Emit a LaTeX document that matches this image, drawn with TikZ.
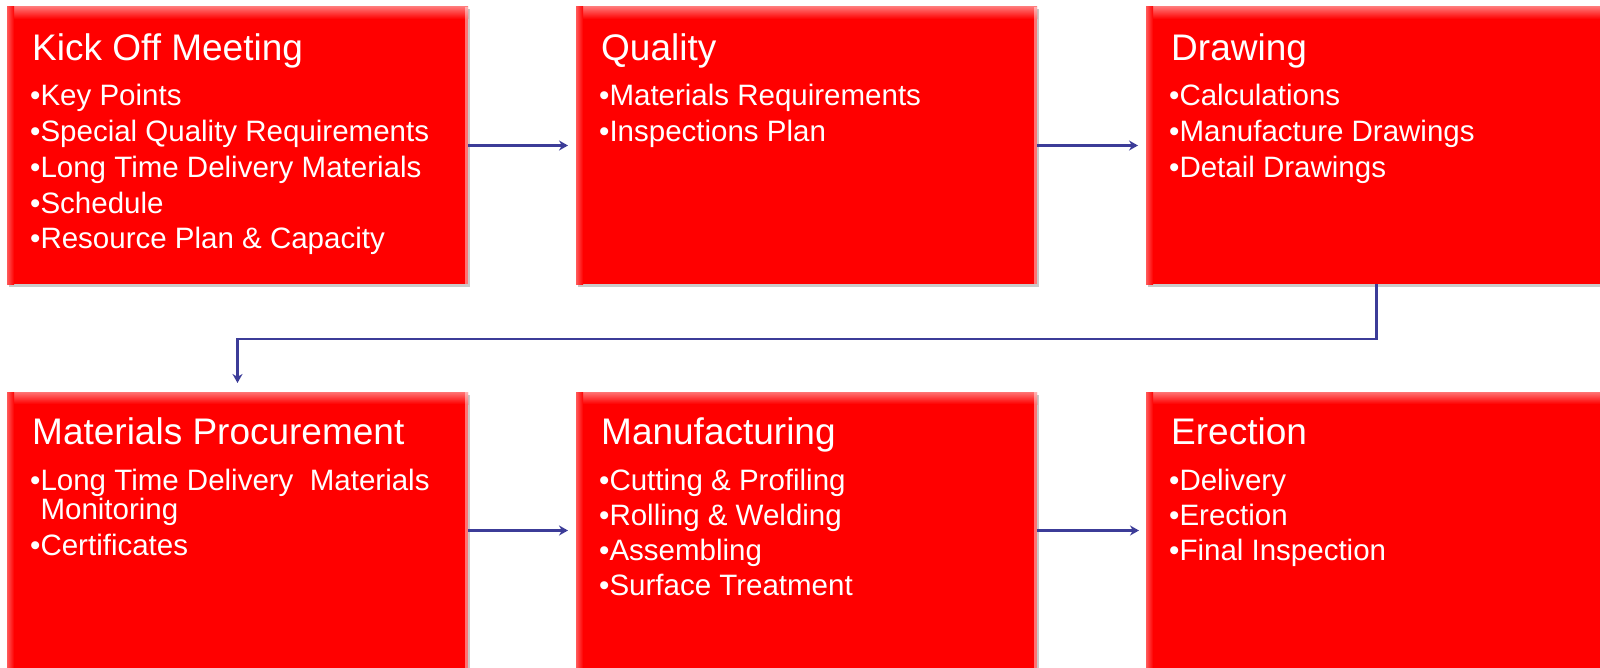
\documentclass[tikz,border=0pt]{standalone}
\usepackage{fontspec}
\setmainfont{Liberation Sans}
\usetikzlibrary{arrows.meta,calc,shadows}
\definecolor{boxred}{RGB}{255,0,0}
\definecolor{arrowblue}{RGB}{60,60,152}
\tikzset{
  procbox/.style={rectangle, fill=boxred, inner sep=0pt, outer sep=0pt,
    minimum width=461pt, minimum height=277pt, anchor=north west,
    drop shadow={shadow xshift=1.5pt, shadow yshift=-2.5pt, opacity=0.35, fill=black!60}},
  boxtitle/.style={text=white, font=\fontsize{37}{40}\selectfont, anchor=base west, inner sep=0pt},
  boxitem/.style={text=white, font=\fontsize{29.5}{33}\selectfont, anchor=base west, inner sep=0pt},
  flow/.style={draw=arrowblue, line width=2.6pt, -{Stealth[length=9pt,width=10pt]}},
}
\newcommand\boxbevel[1]{%
  \shade[top color=red!55!white, bottom color=boxred] (#1.north west) rectangle ([yshift=-12pt]#1.north east);
  \shade[left color=red!65!white, right color=boxred] (#1.north west) rectangle ([xshift=7pt]#1.south west);
  \fill[white, opacity=.45] ([xshift=-3pt]#1.north east) rectangle (#1.south east);
}
\begin{document}
\begin{tikzpicture}[x=1pt,y=-1pt]
\useasboundingbox (0,0) rectangle (1600,668);
% boxes
\node[procbox] (b1) at (7,7) {};
\node[procbox] (b2) at (576,7) {};
\node[procbox] (b3) at (1146,7) {};
\node[procbox] (b4) at (7,392) {};
\node[procbox] (b5) at (576,392) {};
\node[procbox] (b6) at (1146,392) {};
\foreach \b in {b1,b2,b3,b4,b5,b6} {\boxbevel{\b}}
% titles
\node[boxtitle] (t1) at ([shift={(25,54)}]b1.north west) {Kick Off Meeting};
\node[boxtitle] (t2) at ([shift={(25,54)}]b2.north west) {Quality};
\node[boxtitle] (t3) at ([shift={(25,54)}]b3.north west) {Drawing};
\node[boxtitle] (t4) at ([shift={(25,52)}]b4.north west) {Materials Procurement};
\node[boxtitle] (t5) at ([shift={(25,52)}]b5.north west) {Manufacturing};
\node[boxtitle] (t6) at ([shift={(25,52)}]b6.north west) {Erection};
% items
\foreach \t [count=\i] in {Key Points, Special Quality Requirements, Long Time Delivery Materials, Schedule, Resource Plan \& Capacity}
  \node[boxitem] (b1i\i) at ([shift={(23,{99+35.7*(\i-1)})}]b1.north west) {•\t};
\foreach \t [count=\i] in {Materials Requirements, Inspections Plan}
  \node[boxitem] (b2i\i) at ([shift={(23,{99+35.7*(\i-1)})}]b2.north west) {•\t};
\foreach \t [count=\i] in {Calculations, Manufacture Drawings, Detail Drawings}
  \node[boxitem] (b3i\i) at ([shift={(23,{99+35.7*(\i-1)})}]b3.north west) {•\t};
\node[boxitem] (b4i1) at ([shift={(23,98)}]b4.north west) {•Long Time Delivery\ \ Materials};
\node[boxitem] (b4i1b) at ([shift={(23,127)}]b4.north west) {\phantom{•}Monitoring};
\node[boxitem] (b4i2) at ([shift={(23,163)}]b4.north west) {•Certificates};
\foreach \t [count=\i] in {Cutting \& Profiling, Rolling \& Welding, Assembling, Surface Treatment}
  \node[boxitem] (b5i\i) at ([shift={(23,{98+35*(\i-1)})}]b5.north west) {•\t};
\foreach \t [count=\i] in {Delivery, Erection, Final Inspection}
  \node[boxitem] (b6i\i) at ([shift={(23,{98+35*(\i-1)})}]b6.north west) {•\t};
% connectors
\draw[flow, shorten >=8pt] (b1.east) -- (b2.west);
\draw[flow, shorten >=8pt] (b2.east) -- (b3.west);
\draw[flow, shorten >=9pt] (b3.south) -- ++(0,55) -| (b4.north);
\draw[flow, shorten >=8pt] (b4.east) -- (b5.west);
\draw[flow, shorten >=7pt] (b5.east) -- (b6.west);
\end{tikzpicture}
\end{document}
